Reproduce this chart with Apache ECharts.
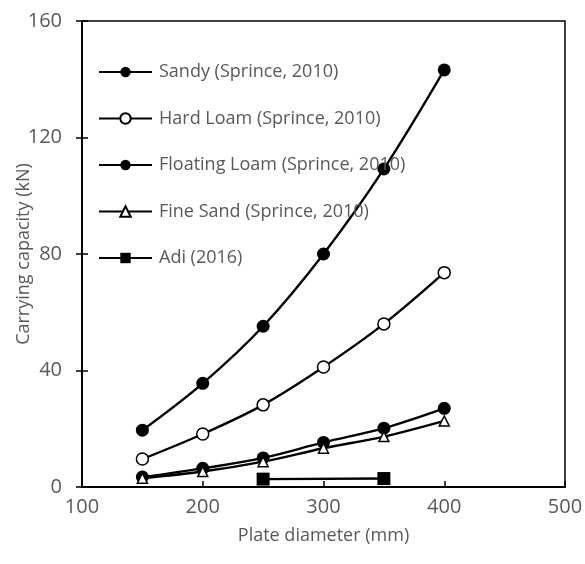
<!DOCTYPE html>
<html>
<head>
<meta charset="utf-8">
<script src="https://cdn.jsdelivr.net/npm/echarts@6/dist/echarts.min.js"></script>
<style>
  html, body { margin: 0; padding: 0; background: #fff; }
  #chart { width: 585px; height: 564px; }
</style>
</head>
<body>
<div id="chart"></div>
<script>
// plate diameter (mm)
const diameter = [150, 200, 250, 300, 350, 400];
const sandy = [19.5, 35.6, 55.2, 80, 109.2, 143.2];
const hardLoam = [9.6, 18.2, 28.2, 41.2, 56, 73.6];
const floatingLoam = [3.4, 6.4, 10, 15.3, 20.2, 27];
const fineSand = [3, 5.3, 8.7, 13.3, 17.3, 22.7];
const adiX = [250, 350];
const adi = [2.7, 2.9];

const xTicks = [100, 500, 100];  // min, max, interval
const yTicks = [0, 160, 40];

function pairs(xs, ys) {
  return xs.map(function (x, i) { return [x, ys[i]]; });
}

const grey = "#595959";
const font = "'Open Sans', sans-serif";

function line(name, data, symbol, size, hollow) {
  return {
    name: name,
    type: "line",
    data: data,
    smooth: 0.35,
    symbol: symbol,
    symbolSize: size,
    showSymbol: true,
    lineStyle: { color: "#000", width: 2.4 },
    itemStyle: {
      color: hollow ? "#fff" : "#000",
      borderColor: "#000",
      borderWidth: hollow ? 1.5 : 0
    },
    emphasis: { disabled: true }
  };
}

let myChart = echarts.init(document.getElementById("chart"));
myChart.setOption({
  animation: false,
  textStyle: { fontFamily: font },
  grid: {
    left: 82, right: 20, top: 21, bottom: 77,
    containLabel: false,
    outerBoundsMode: "none",
    show: true, borderColor: "#000", borderWidth: 1.5
  },
  legend: {
    orient: "vertical",
    left: 93,
    top: 58,
    itemWidth: 53,
    itemHeight: 13,
    itemGap: 28.5,
    textStyle: { color: grey, fontSize: 18, fontFamily: font, padding: [0, 0, 0, 2] },
    data: ["Sandy (Sprince, 2010)", "Hard Loam (Sprince, 2010)", "Floating Loam (Sprince, 2010)",
      "Fine Sand (Sprince, 2010)", "Adi (2016)"]
  },
  xAxis: {
    type: "value",
    min: xTicks[0], max: xTicks[1], interval: xTicks[2],
    name: "Plate diameter (mm)",
    nameLocation: "middle",
    nameGap: 40,
    nameMoveOverlap: false,
    nameTextStyle: { color: grey, fontSize: 18 },
    axisLine: { lineStyle: { color: "#000", width: 2 } },
    axisTick: { inside: true, length: 6, lineStyle: { color: "#000", width: 1.5 } },
    axisLabel: { color: grey, fontSize: 20, margin: 10 },
    splitLine: { show: false }
  },
  yAxis: [
    {
      type: "value",
      min: yTicks[0], max: yTicks[1], interval: yTicks[2],
      name: "Carrying capacity (kN)",
      nameLocation: "middle",
      nameGap: 49,
      nameMoveOverlap: false,
      nameTextStyle: { color: grey, fontSize: 18 },
      axisLine: { lineStyle: { color: "#000", width: 2 } },
      axisTick: { length: 6, lineStyle: { color: "#000", width: 1.5 } },
      axisLabel: { color: grey, fontSize: 20, margin: 20 },
      splitLine: { show: false }
    },
    {
      // inner half of the crossing ticks
      type: "value",
      position: "left",
      min: yTicks[0], max: yTicks[1], interval: yTicks[2],
      axisLine: { show: false },
      axisTick: { inside: true, length: 6, lineStyle: { color: "#000", width: 1.5 } },
      axisLabel: { show: false },
      splitLine: { show: false }
    }
  ],
  series: [
    line("Sandy (Sprince, 2010)", pairs(diameter, sandy), "circle", 13, false),
    line("Hard Loam (Sprince, 2010)", pairs(diameter, hardLoam), "circle", 12, true),
    line("Floating Loam (Sprince, 2010)", pairs(diameter, floatingLoam), "circle", 13, false),
    line("Fine Sand (Sprince, 2010)", pairs(diameter, fineSand), "triangle", 10, true),
    line("Adi (2016)", pairs(adiX, adi), "rect", 13, false)
  ]
});
window.onresize = function () {
  myChart.resize();
};
</script>
</body>
</html>
